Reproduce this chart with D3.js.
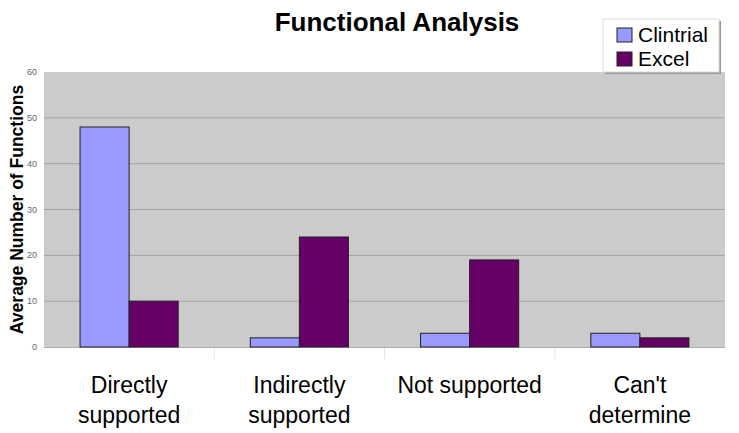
<!DOCTYPE html>
<html>
<head>
<meta charset="utf-8">
<script src="https://cdn.jsdelivr.net/npm/d3@7"></script>
<style>
body { margin:0; background:#fff; }
svg { font-family: Arial, "Liberation Sans", sans-serif; }
</style>
</head>
<body>
<div id="chart-area"></div>
<script>
// data
var categories = [["Directly", "supported"], ["Indirectly", "supported"], ["Not supported"], ["Can't", "determine"]];
var seriesNames = ["Clintrial", "Excel"];
var clintrial = [48, 2, 3, 3];
var excel = [10, 24, 19, 2];
var yTicks = [0, 10, 20, 30, 40, 50, 60];
var colors = ["#9999ff", "#660066"];

var W = 739, H = 433;
var plot = {left:44, right:725, top:72, bottom:347};

var svg = d3.select("#chart-area").append("svg")
	.attr("width", W).attr("height", H);

var catIdx = categories.map(function(d, i){ return i; });

// x scales
var x0 = d3.scaleBand()
	.domain(catIdx)
	.range([plot.left, plot.right]);
var x1 = d3.scaleBand()
	.domain(seriesNames)
	.range([0, x0.bandwidth()])
	.paddingOuter(0.735);

var y = d3.scaleLinear()
	.domain([0, 60])
	.range([plot.bottom, plot.top]);

// plot background
svg.append("rect")
	.attr("x", plot.left).attr("y", plot.top)
	.attr("width", plot.right - plot.left)
	.attr("height", plot.bottom - plot.top)
	.attr("fill", "#cbcbcb");

// gridlines
svg.append("g").selectAll("line")
	.data(yTicks.filter(function(d){ return d > 0 && d < 60; }))
	.enter().append("line")
		.attr("x1", plot.left).attr("x2", plot.right)
		.attr("y1", function(d){ return y(d); })
		.attr("y2", function(d){ return y(d); })
		.attr("stroke", "#a3a3a3");

// y tick labels
svg.append("g").selectAll("text")
	.data(yTicks)
	.enter().append("text")
		.attr("x", 37)
		.attr("y", function(d){ return y(d) + 3; })
		.attr("text-anchor", "end")
		.attr("font-size", 9)
		.attr("fill", "#666")
		.text(function(d){ return d; });

// category tick marks below the axis
svg.append("g").selectAll("line")
	.data([1, 2, 3])
	.enter().append("line")
		.attr("x1", function(d){ return x0(d); })
		.attr("x2", function(d){ return x0(d); })
		.attr("y1", plot.bottom + 1).attr("y2", plot.bottom + 12)
		.attr("stroke", "#e6e6e6");

svg.append("line")
	.attr("x1", plot.left).attr("x2", plot.right)
	.attr("y1", plot.bottom + 0.5).attr("y2", plot.bottom + 0.5)
	.attr("stroke", "#b0b0b0");

// bars
var rows = [];
catIdx.forEach(function(i){
	rows.push({cat:i, s:"Clintrial", v:clintrial[i], c:colors[0]});
	rows.push({cat:i, s:"Excel", v:excel[i], c:colors[1]});
});

svg.append("g").selectAll("rect")
	.data(rows)
	.enter().append("rect")
		.attr("x", function(d){ return x0(d.cat) + x1(d.s); })
		.attr("y", function(d){ return y(d.v); })
		.attr("width", x1.bandwidth())
		.attr("height", function(d){ return y(0) - y(d.v); })
		.attr("fill", function(d){ return d.c; })
		.attr("stroke", "#222")
		.attr("stroke-width", 1);

// category labels
var catLabels = svg.append("g").selectAll("text")
	.data(categories)
	.enter().append("text")
		.attr("text-anchor", "middle")
		.attr("font-size", 23)
		.attr("fill", "#000");
catLabels.each(function(d, i){
	var t = d3.select(this);
	d.forEach(function(line, j){
		t.append("tspan")
			.attr("x", x0(i) + x0.bandwidth()/2)
			.attr("y", 393 + j*30)
			.text(line);
	});
});

// title
svg.append("text")
	.attr("x", 397).attr("y", 31)
	.attr("text-anchor", "middle")
	.attr("font-size", 26)
	.attr("font-weight", "bold")
	.text("Functional Analysis");

// y axis title
svg.append("text")
	.attr("transform", "translate(23, " + ((plot.top + plot.bottom)/2) + ") rotate(-90)")
	.attr("text-anchor", "middle")
	.attr("font-size", 17.5)
	.attr("font-weight", "bold")
	.text("Average Number of Functions");

// legend
var legend = svg.append("g").attr("transform", "translate(603, 19)");
legend.append("rect")
	.attr("x", 2).attr("y", 2)
	.attr("width", 116).attr("height", 53)
	.attr("fill", "#999");
legend.append("rect")
	.attr("width", 116).attr("height", 53)
	.attr("fill", "#fff")
	.attr("stroke", "#ddd");

seriesNames.forEach(function(name, i){
	var row = legend.append("g").attr("transform", "translate(14, " + (9 + i*24) + ")");
	row.append("rect")
		.attr("width", 15).attr("height", 14)
		.attr("fill", colors[i])
		.attr("stroke", "#222");
	row.append("text")
		.attr("x", 21).attr("y", 14)
		.attr("font-size", 21)
		.text(name);
});
</script>
</body>
</html>
